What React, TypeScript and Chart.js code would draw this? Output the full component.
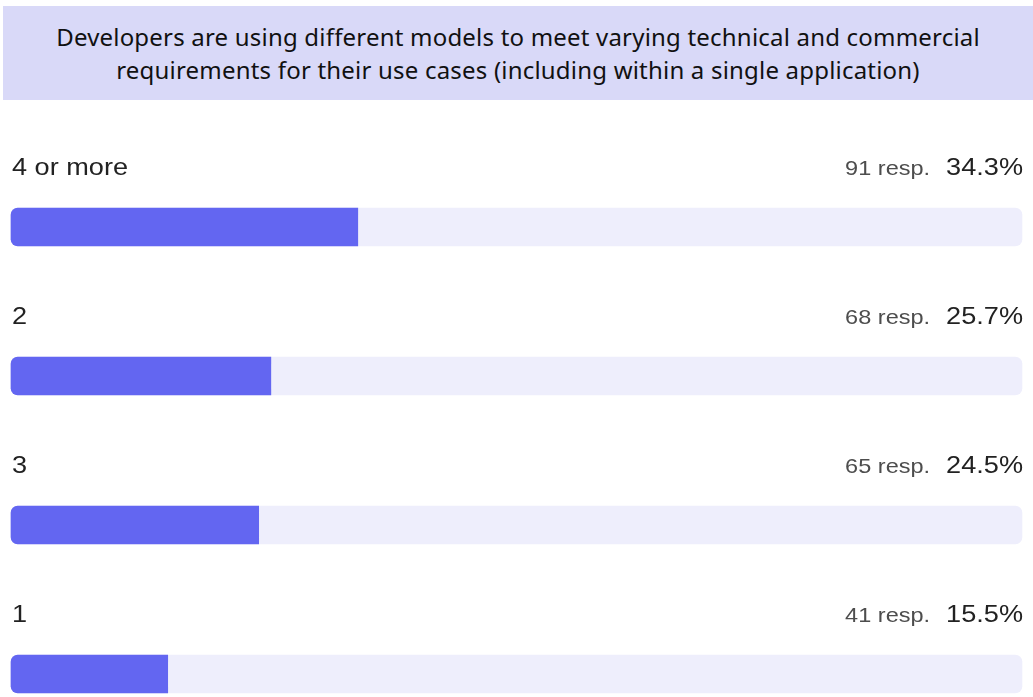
import { useEffect, useRef } from 'react';
import { Chart, registerables } from 'chart.js';

Chart.register(...registerables);

const title = [
  'Developers are using different models to meet varying technical and commercial',
  'requirements for their use cases (including within a single application)',
];
const categories = ['4 or more', '2', '3', '1'];
const responses = [91, 68, 65, 41];
const percentages = [34.3, 25.7, 24.5, 15.5];
const trackValues = [100, 100, 100, 100];

function drawScaled(ctx: CanvasRenderingContext2D, text: string, x: number, y: number, align: CanvasTextAlign, sx: number) {
  ctx.save();
  ctx.translate(x, y);
  ctx.scale(sx, 1);
  ctx.textAlign = align;
  ctx.fillText(text, 0, 0);
  const w = ctx.measureText(text).width * sx;
  ctx.restore();
  return w;
}

export default function App() {
  const ref = useRef<HTMLCanvasElement>(null);

  useEffect(() => {
    if (!ref.current) return;
    const labelPlugin = {
      id: 'rowLabels',
      afterDatasetsDraw(chart: any) {
        const { ctx, chartArea } = chart;
        const meta = chart.getDatasetMeta(1);
        ctx.save();
        ctx.textBaseline = 'alphabetic';
        meta.data.forEach((bar: any, i: number) => {
          const { y, height } = bar.getProps(['y', 'height'], true);
          const baseline = y - height / 2 - 33;
          ctx.font = '24px "Liberation Sans", Arial, sans-serif';
          ctx.fillStyle = '#222222';
          drawScaled(ctx, categories[i], chartArea.left + 1, baseline, 'left', 1.13);
          const pct = percentages[i].toFixed(1) + '%';
          ctx.font = '24px "Liberation Sans", Arial, sans-serif';
          const w = drawScaled(ctx, pct, chartArea.right + 1, baseline, 'right', 1.13);
          ctx.font = '21px "Liberation Sans", Arial, sans-serif';
          ctx.fillStyle = '#4d4d4d';
          drawScaled(ctx, responses[i] + ' resp.', chartArea.right + 1 - w - 16, baseline, 'right', 1.12);
        });
        ctx.restore();
      },
    };

    const chart = new Chart(ref.current, {
      type: 'bar',
      data: {
        labels: categories,
        datasets: [
          {
            data: trackValues,
            backgroundColor: '#eeeefc',
            borderRadius: 7,
            borderSkipped: false,
            grouped: false,
            barThickness: 38,
            order: 1,
            clip: false,
          },
          {
            data: percentages,
            backgroundColor: '#6366f1',
            borderRadius: 7,
            borderSkipped: 'end',
            grouped: false,
            barThickness: 38,
            order: 0,
            clip: false,
          },
        ],
      } as any,
      options: {
        indexAxis: 'y',
        responsive: false,
        animation: false,
        layout: { padding: { left: 11, right: 11, top: 227, bottom: 23 } },
        scales: {
          x: { min: 0, max: 100, display: false },
          y: { display: false, offset: false },
        },
        plugins: {
          legend: { display: false },
          tooltip: { enabled: false },
        },
      } as any,
      plugins: [labelPlugin],
    });
    return () => chart.destroy();
  }, []);

  return (
    <div style={{ position: 'absolute', left: 0, top: 0, width: 1033, height: 697, background: '#ffffff', overflow: 'hidden' }}>
      <canvas ref={ref} width={1033} height={697} style={{ position: 'absolute', left: 0, top: 0, width: 1033, height: 697 }} />
      <div
        style={{
          position: 'absolute',
          left: 3,
          top: 6,
          width: 1030,
          height: 94,
          boxSizing: 'border-box',
          paddingTop: 14,
          background: '#d9d9f8',
          color: '#111111',
          fontFamily: '"Noto Sans", sans-serif',
          fontSize: 24,
          letterSpacing: '0.2px',
          lineHeight: '33px',
          textAlign: 'center',
          whiteSpace: 'nowrap',
        }}
      >
        {title.map((t) => (
          <div key={t}>{t}</div>
        ))}
      </div>
    </div>
  );
}
